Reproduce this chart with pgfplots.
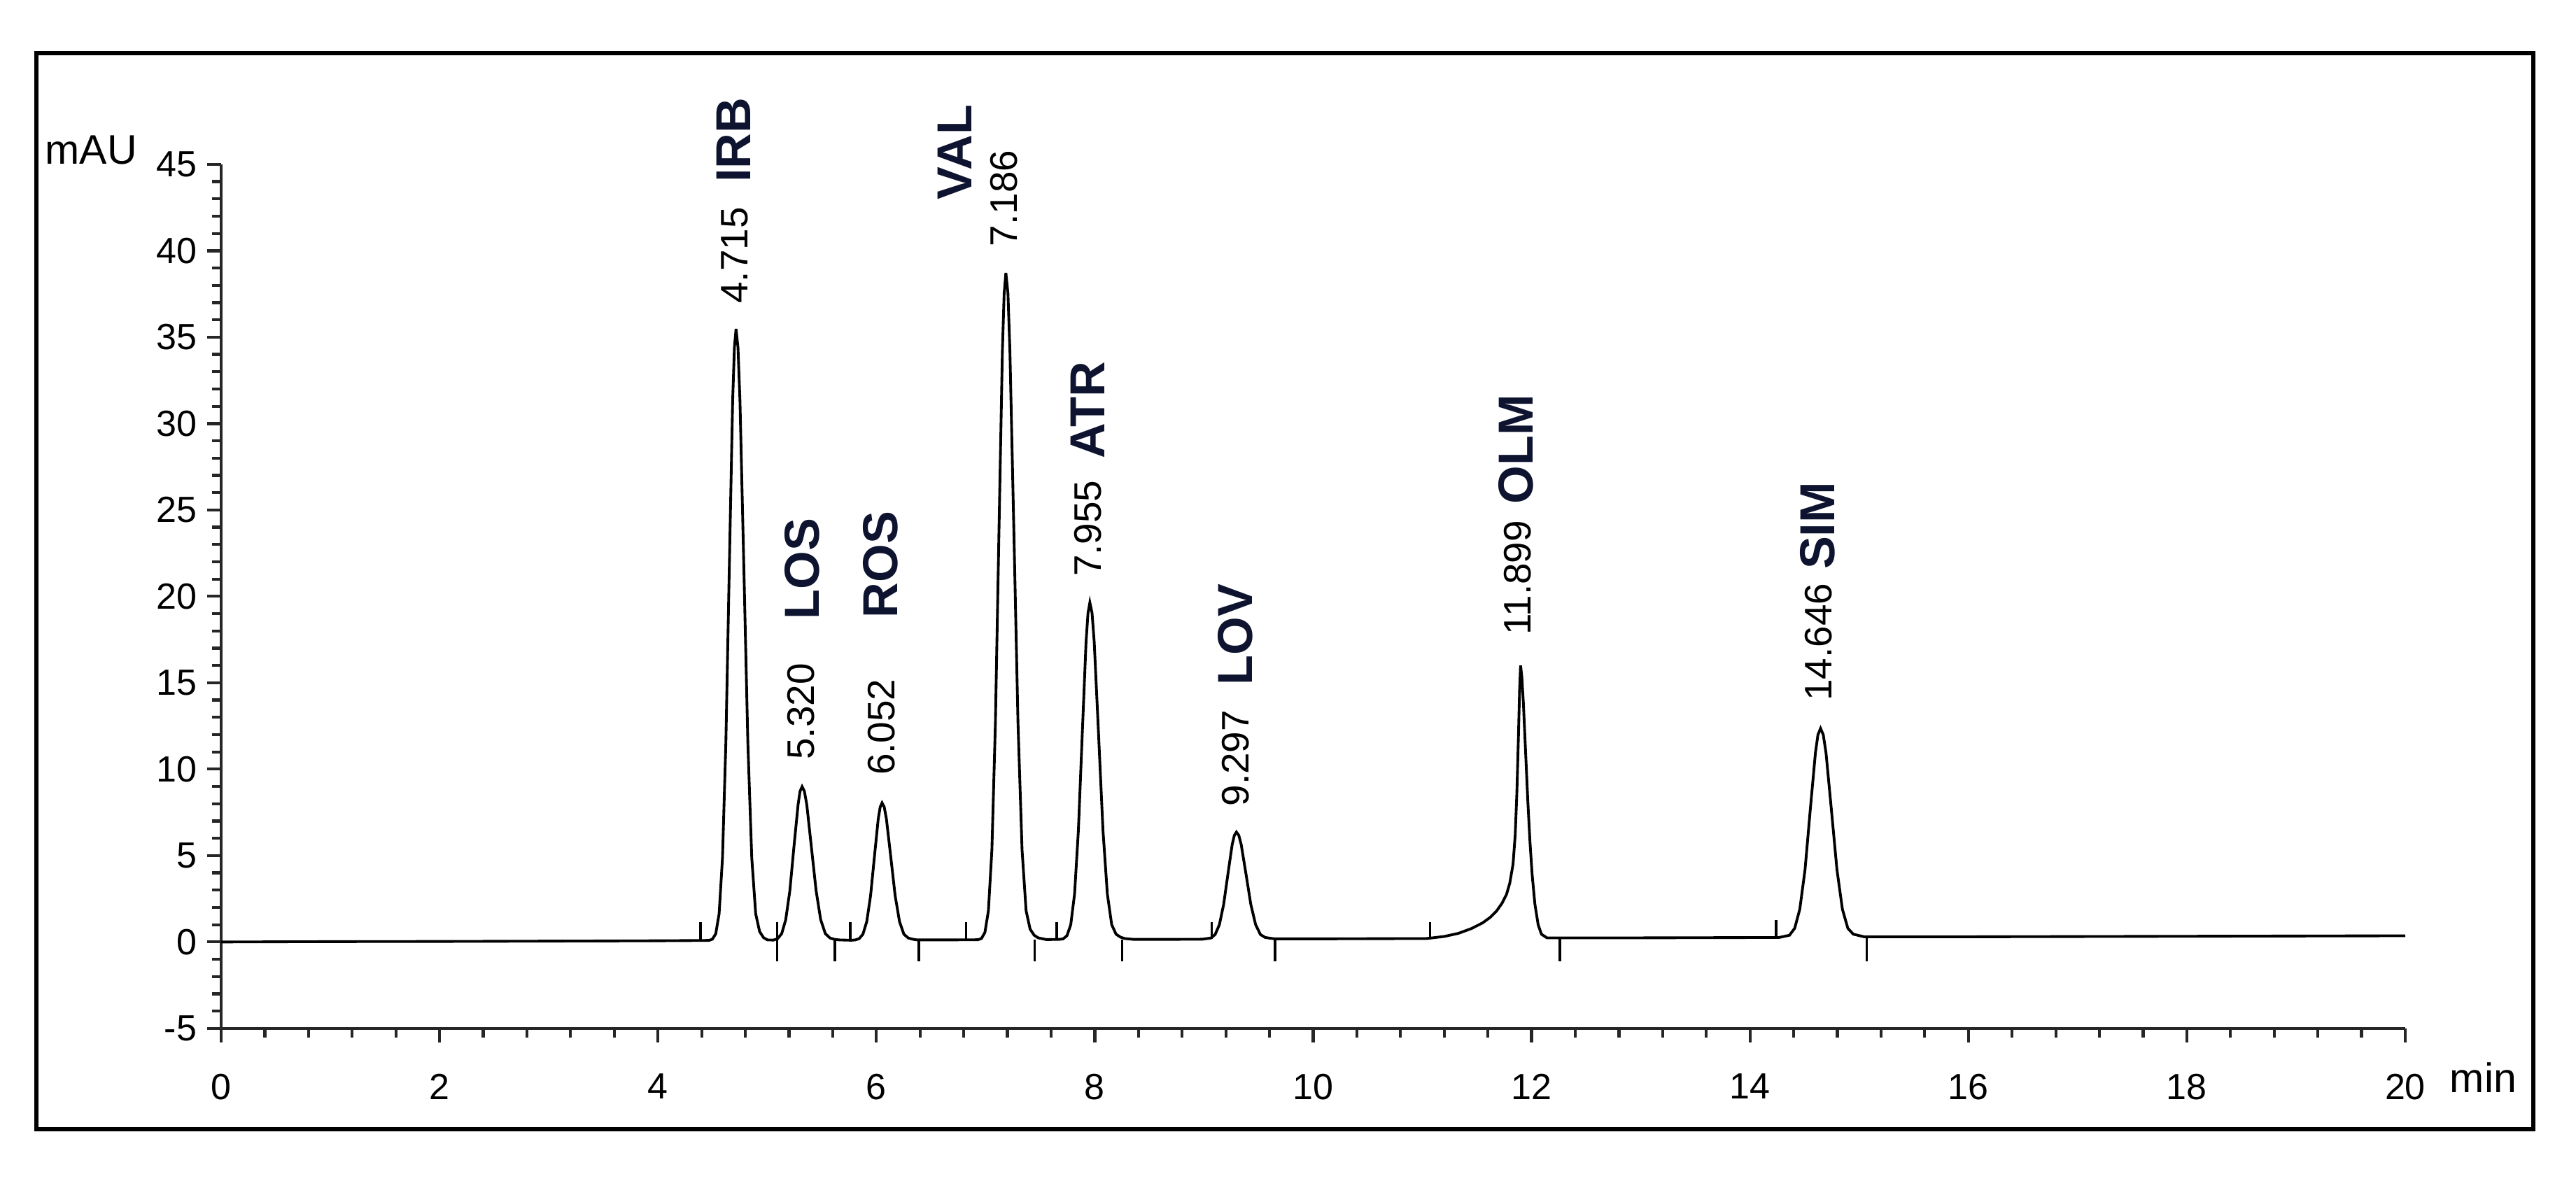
\documentclass[border=0pt]{standalone}
\usepackage{fontspec}
\setmainfont{Liberation Sans}
\usepackage{pgfplots}
\pgfplotsset{compat=1.18}
\definecolor{lbl}{RGB}{14,20,48}

\begin{document}
\begin{tikzpicture}
\begin{axis}[
  scale only axis,
  width=15.605cm, height=6.175cm,
  xmin=0, xmax=20, ymin=-5, ymax=45,
  axis x line=bottom, axis y line=left,
  axis line style={-, line width=0.6pt, black!85},
  xtick={0,2,...,20}, ytick={-5,0,...,45},
  minor x tick num=4, minor y tick num=4,
  tick align=outside,
  major tick length=0.1cm, minor tick length=0.065cm,
  every tick/.style={line width=0.6pt, black!85},
  ticklabel style={font=\fontsize{7.4}{9}\selectfont},
  /pgf/number format/assume math mode=true,
  xticklabel style={yshift=-0.1cm},
  yticklabel style={xshift=0.05cm},
  clip=false,
]
% chromatogram trace
\addplot[black, line width=0.55pt] coordinates {
  (0,0.00)(1,0.02)(2,0.03)(3,0.05)(4,0.07)
  (4.467,0.09)(4.498,0.16)(4.529,0.47)(4.560,1.63)(4.591,4.87)(4.622,11.57)
  (4.653,21.55)(4.684,31.32)(4.700,34.39)(4.715,35.48)(4.733,34.39)(4.751,31.32)
  (4.787,21.55)(4.823,11.57)(4.859,4.87)(4.895,1.63)(4.931,0.60)(4.967,0.25)(5.003,0.12)
  (5.058,0.11)(5.095,0.19)(5.133,0.48)(5.170,1.29)(5.208,2.98)(5.245,5.49)
  (5.283,7.94)(5.301,8.72)(5.320,8.99)(5.341,8.72)(5.363,7.94)(5.405,5.49)
  (5.448,2.98)(5.490,1.29)(5.533,0.48)(5.575,0.23)(5.618,0.15)(5.660,0.12)
  (5.772,0.10)(5.807,0.12)(5.842,0.19)(5.877,0.45)(5.912,1.18)(5.947,2.68)
  (5.982,4.92)(6.017,7.12)(6.035,7.81)(6.052,8.05)(6.072,7.81)(6.092,7.12)
  (6.132,4.92)(6.172,2.68)(6.212,1.18)(6.252,0.45)(6.292,0.23)(6.332,0.16)(6.372,0.12)
  (6.65,0.12)
  (6.930,0.13)(6.962,0.20)(6.994,0.55)(7.026,1.81)(7.058,5.34)(7.090,12.65)
  (7.122,23.53)(7.154,34.18)(7.170,37.53)(7.186,38.72)(7.205,37.53)(7.223,34.18)
  (7.260,23.53)(7.297,12.65)(7.334,5.34)(7.371,1.81)(7.408,0.74)(7.445,0.39)
  (7.482,0.24)(7.556,0.14)
  (7.675,0.15)(7.710,0.18)(7.745,0.36)(7.780,1.00)(7.815,2.78)(7.850,6.47)
  (7.885,11.97)(7.920,17.35)(7.938,19.04)(7.955,19.64)(7.975,19.04)(7.995,17.35)
  (8.035,11.97)(8.075,6.47)(8.115,2.78)(8.155,1.00)(8.195,0.45)(8.235,0.28)
  (8.275,0.20)(8.355,0.15)
  (8.65,0.15)
  (8.985,0.16)(9.063,0.23)(9.102,0.43)(9.141,1.00)(9.180,2.17)(9.219,3.92)
  (9.258,5.63)(9.278,6.17)(9.297,6.36)(9.319,6.17)(9.341,5.63)(9.385,3.92)
  (9.429,2.17)(9.473,1.00)(9.517,0.43)(9.561,0.26)(9.649,0.18)
  (10.0,0.18)(10.5,0.19)
  (11.04,0.20)(11.20,0.32)(11.33,0.50)(11.45,0.78)(11.55,1.10)(11.62,1.42)
  (11.68,1.80)(11.73,2.25)(11.77,2.75)(11.80,3.40)(11.83,4.50)(11.85,6.20)
  (11.865,8.60)(11.88,12.00)(11.89,14.60)(11.899,16.00)(11.91,15.40)(11.925,13.80)
  (11.945,11.00)(11.965,8.20)(11.985,5.80)(12.005,3.90)(12.03,2.20)(12.06,1.00)
  (12.09,0.45)(12.14,0.24)
  (13.0,0.24)
  (14.266,0.26)(14.361,0.39)(14.409,0.79)(14.456,1.90)(14.504,4.19)(14.551,7.60)
  (14.599,10.94)(14.622,11.99)(14.646,12.36)(14.671,11.99)(14.696,10.94)(14.746,7.60)
  (14.796,4.19)(14.846,1.90)(14.896,0.79)(14.946,0.45)(15.046,0.30)
  (16,0.30)(18,0.33)(20,0.36)
};
% integration start (up) and end (down) marks
\addplot[black, line width=0.5pt, unbounded coords=jump] coordinates {
  (4.39,0.08)(4.39,1.15)(4.39,nan)
  (5.09,0.09)(5.09,1.15)(5.09,nan)
  (5.76,0.10)(5.76,1.15)(5.76,nan)
  (6.82,0.12)(6.82,1.15)(6.82,nan)
  (7.65,0.13)(7.65,1.15)(7.65,nan)
  (9.07,0.16)(9.07,1.15)(9.07,nan)
  (11.07,0.19)(11.07,1.15)(11.07,nan)
  (14.24,0.25)(14.24,1.25)(14.24,nan)
  (5.09,0.09)(5.09,-1.10)(5.09,nan)
  (5.62,0.10)(5.62,-1.10)(5.62,nan)
  (6.39,0.11)(6.39,-1.10)(6.39,nan)
  (7.45,0.13)(7.45,-1.10)(7.45,nan)
  (8.25,0.14)(8.25,-1.10)(8.25,nan)
  (9.65,0.17)(9.65,-1.10)(9.65,nan)
  (12.26,0.21)(12.26,-1.10)(12.26,nan)
  (15.07,0.26)(15.07,-1.10)
};
% retention times
\begin{scope}[every node/.style={rotate=90, anchor=west, inner sep=0pt,
    font=\fontsize{7.8}{9}\selectfont}]
\node at (axis cs:4.70,36.9) {4.715};
\node at (axis cs:5.31,10.5) {5.320};
\node at (axis cs:6.045,9.6) {6.052};
\node at (axis cs:7.17,40.2) {7.186};
\node at (axis cs:7.935,21.1) {7.955};
\node at (axis cs:9.29,7.8) {9.297};
\node at (axis cs:11.87,17.7) {11.899};
\node at (axis cs:14.63,13.9) {14.646};
\end{scope}
% compound names
\begin{scope}[every node/.style={rotate=90, anchor=west, inner sep=0pt,
    text=lbl, font=\fontsize{10}{12}\selectfont\bfseries}]
\node at (axis cs:4.69,43.9) {IRB};
\node at (axis cs:5.32,18.6) {LOS};
\node at (axis cs:6.04,18.7) {ROS};
\node at (axis cs:6.72,42.9) {VAL};
\node at (axis cs:7.935,27.9) {ATR};
\node at (axis cs:9.29,14.8) {LOV};
\node at (axis cs:11.86,25.3) {OLM};
\node at (axis cs:14.62,21.5) {SIM};
\end{scope}
% units
\node[anchor=base east, inner sep=0pt, font=\fontsize{8.4}{10}\selectfont]
  at (axis cs:-0.76,45.0) {mAU};
\node[anchor=base west, inner sep=0pt, font=\fontsize{8.4}{10}\selectfont]
  at (axis cs:20.40,-8.72) {min};
% frame and page extent
\draw[line width=0.85pt] (axis cs:-1.692,-10.85) rectangle (axis cs:21.173,51.44);
\path (axis cs:-2.025,-13.83) rectangle (axis cs:21.564,54.51);
\end{axis}
\end{tikzpicture}
\end{document}
